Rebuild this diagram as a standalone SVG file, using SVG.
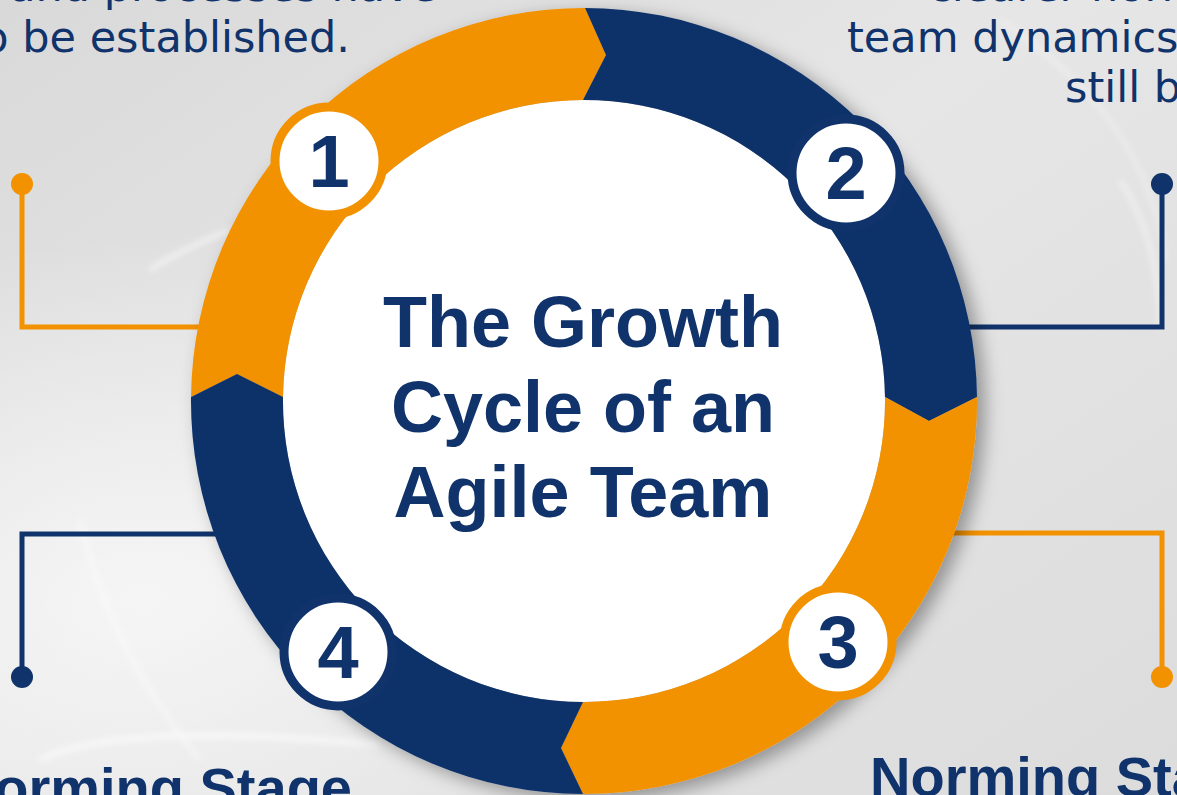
<svg xmlns="http://www.w3.org/2000/svg" width="1177" height="795" viewBox="0 0 1177 795">
  <defs>
    <style>
      .navy{fill:#10336b}
      .orange{fill:#f39200}
      .body{font-family:"DejaVu Sans","Liberation Sans",sans-serif;font-size:43px;fill:#10336b}
      .head{font-family:"Liberation Sans",Arial,sans-serif;font-weight:bold;font-size:56px;fill:#10336b}
      .title{font-family:"Liberation Sans",Arial,sans-serif;font-weight:bold;font-size:72px;fill:#10336b;text-anchor:middle}
      .num{font-family:"Liberation Sans",Arial,sans-serif;font-weight:bold;font-size:74px;fill:#10336b;text-anchor:middle}
      .badge{fill:#ffffff;stroke-width:9}
      .ln{fill:none;stroke-width:5;stroke-linejoin:miter}
    </style>
    <linearGradient id="bg" x1="0" y1="0" x2="1" y2="1">
      <stop offset="0" stop-color="#d9d9d9"/>
      <stop offset="0.45" stop-color="#e6e6e6"/>
      <stop offset="1" stop-color="#dcdcdc"/>
    </linearGradient>
    <radialGradient id="glow" cx="0.12" cy="0.75" r="0.45">
      <stop offset="0" stop-color="#f7f7f7" stop-opacity="0.9"/>
      <stop offset="1" stop-color="#f7f7f7" stop-opacity="0"/>
    </radialGradient>
    <filter id="shadow" x="-20%" y="-20%" width="140%" height="140%">
      <feDropShadow dx="8" dy="6" stdDeviation="9" flood-color="#000000" flood-opacity="0.35"/>
    </filter>
    <filter id="soft" x="-20%" y="-20%" width="140%" height="140%">
      <feGaussianBlur stdDeviation="3"/>
    </filter>
  </defs>

  <!-- background -->
  <rect width="1177" height="795" fill="url(#bg)"/>
  <rect width="1177" height="795" fill="url(#glow)"/>
  <g fill="none" stroke="#ffffff" filter="url(#soft)" opacity="0.7">
    <path d="M 150 270 Q 180 250 230 230" stroke-width="4"/>
    <path d="M 40 760 Q 120 720 380 745" stroke-width="5"/>
    <path d="M 1120 180 Q 1160 240 1160 330" stroke-width="3"/>
    <path d="M 1000 20 Q 1150 120 1165 260" stroke-width="2"/>
    <path d="M 80 520 Q 110 650 200 760" stroke-width="3"/>
  </g>

  <!-- connectors -->
  <g id="connectors">
    <path class="ln" stroke="#f39200" d="M 22 184 L 22 327 L 220 327"/>
    <circle cx="22" cy="184" r="11" class="orange"/>
    <path class="ln" stroke="#10336b" d="M 1162 184 L 1162 327 L 960 327"/>
    <circle cx="1162" cy="184" r="11" class="navy"/>
    <path class="ln" stroke="#10336b" d="M 220 534 L 22 534 L 22 677"/>
    <circle cx="22" cy="677" r="11" class="navy"/>
    <path class="ln" stroke="#f39200" d="M 950 533 L 1162 533 L 1162 677"/>
    <circle cx="1162" cy="677" r="11" class="orange"/>
  </g>

  <!-- ring -->
  <g id="ring" filter="url(#shadow)">
    <circle cx="584" cy="401" r="301" fill="#ffffff"/>
    <path id="seg1" class="orange" d="M 191 397 A 393 393 0 0 1 585 8 L 606 55 L 583 100 A 301 301 0 0 0 283 397 L 237 374 Z"/>
    <path id="seg2" class="navy" d="M 585 8 A 393 393 0 0 1 977 397 L 929 421 L 885 397 A 301 301 0 0 0 583 100 L 606 55 Z"/>
    <path id="seg3" class="orange" d="M 977 397 A 393 393 0 0 1 583 794 L 561 748 L 583 702 A 301 301 0 0 0 885 397 L 929 421 Z"/>
    <path id="seg4" class="navy" d="M 583 794 A 393 393 0 0 1 191 397 L 237 374 L 283 397 A 301 301 0 0 0 583 702 L 561 748 Z"/>
  </g>

  <!-- badges -->
  <g id="badge1">
    <circle cx="329" cy="161" r="54" class="badge" stroke="#f39200"/>
    <text x="329" y="187" class="num">1</text>
  </g>
  <g id="badge2">
    <circle cx="846" cy="173" r="54" class="badge" stroke="#10336b"/>
    <text x="846" y="199" class="num">2</text>
  </g>
  <g id="badge3">
    <circle cx="838" cy="642" r="54" class="badge" stroke="#f39200"/>
    <text x="838" y="668" class="num">3</text>
  </g>
  <g id="badge4">
    <circle cx="338" cy="652" r="54" class="badge" stroke="#10336b"/>
    <text x="338" y="678" class="num">4</text>
  </g>

  <!-- title -->
  <g id="title">
    <text x="583" y="347" class="title">The Growth</text>
    <text x="583" y="432" class="title">Cycle of an</text>
    <text x="583" y="517" class="title">Agile Team</text>
  </g>

  <!-- stage texts -->
  <g id="text-forming">
    <text x="437" y="1" class="body" text-anchor="end">and processes have</text>
    <text x="350" y="52" class="body" text-anchor="end">to be established.</text>
  </g>
  <g id="text-storming">
    <text x="928" y="1" class="body">clearer norms,</text>
    <text x="847" y="52" class="body">team dynamics</text>
    <text x="1065" y="102" class="body">still blurry.</text>
  </g>
  <g id="text-performing">
    <text x="352" y="807" class="head" text-anchor="end">Performing Stage</text>
  </g>
  <g id="text-norming">
    <text x="870" y="796" class="head">Norming Stage</text>
  </g>
</svg>
